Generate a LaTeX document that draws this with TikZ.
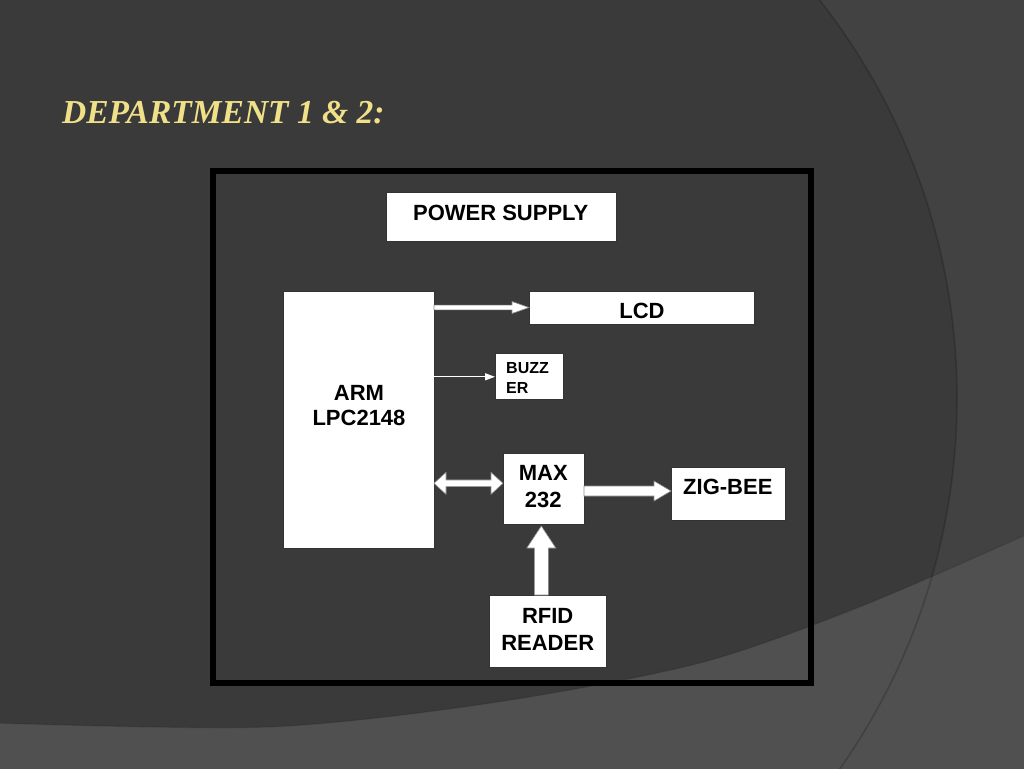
\documentclass[tikz,border=0pt]{standalone}
\usepackage{fontspec}
\newfontfamily\sansf{Liberation Sans}
\newfontfamily\seriff{Liberation Serif}
\usetikzlibrary{calc,arrows.meta}
\definecolor{bgdark}{RGB}{58,58,58}
\definecolor{bgright}{RGB}{66,66,66}
\definecolor{bgband}{RGB}{80,80,80}
\definecolor{titlecol}{RGB}{240,224,136}
\begin{document}
\begin{tikzpicture}[x=1pt,y=-1pt,
  box/.style={draw=black!80,line width=0.8pt,fill=white,inner sep=0pt,outer sep=0pt},
  lbl/.style={font=\sansf\bfseries\fontsize{22}{25}\selectfont,inner sep=0pt,text=black},
  lbltwo/.style={font=\sansf\bfseries\fontsize{22}{27}\selectfont,inner sep=0pt,text=black,align=center},
  barrow/.style={fill=white,draw=black!45,line width=0.6pt,line join=miter}]

\useasboundingbox (0,0) rectangle (1024,768);
\fill[bgdark] (0,0) rectangle (1024,768);
\begin{scope}
  \clip (0,0) rectangle (1024,768);
  \fill[bgright,even odd rule] (-10,-10) rectangle (1100,800) (312,398) circle (645);
  \fill[bgband] plot[smooth] coordinates {(-5,723) (268,727) (491,703) (700,663) (862,606) (1030,533)} -- (1030,775) -- (-5,775) -- cycle;
  \draw[black,opacity=0.18,line width=1.6pt] (312,398) circle (645);
  \draw[black,opacity=0.12,line width=1.2pt] plot[smooth] coordinates {(-5,723) (268,727) (491,703) (700,663) (862,606) (1030,533)};
\end{scope}

% title
\node[font=\seriff\bfseries\itshape\fontsize{33.5}{40}\selectfont,text=titlecol,anchor=base west,inner sep=0pt] (title) at (62,123.3) {DEPARTMENT 1 \& 2:};

% frame
\node[draw=black,line width=6pt,minimum width=597.5,minimum height=511.5,inner sep=0pt,outer sep=0pt] (frame) at (511.75,426.75) {};

% boxes (geometry)
\node[box,minimum width=230,minimum height=49] (ps) at (501,216.5) {};
\node[box,minimum width=225,minimum height=33] (lcd) at (641.5,307.5) {};
\node[box,minimum width=151,minimum height=257] (arm) at (358.5,419.5) {};
\node[box,minimum width=68,minimum height=46] (buzzer) at (529,376) {};
\node[box,minimum width=81,minimum height=71] (max) at (543.5,488.5) {};
\node[box,minimum width=114,minimum height=53] (zig) at (728,493.5) {};
\node[box,minimum width=117,minimum height=72] (rfid) at (547.5,631) {};

% connectors
\draw[barrow] ($(arm.east|-lcd.west)+(0,-2.35)$) -- ($(lcd.west)+(-17,-2.35)$) -- ($(lcd.west)+(-17,-6)$) -- (lcd.west) -- ($(lcd.west)+(-17,6)$) -- ($(lcd.west)+(-17,2.35)$) -- ($(arm.east|-lcd.west)+(0,2.35)$) -- cycle;

\draw[white,line width=1.3pt,-{Triangle[length=10pt,width=7pt]}] ($(arm.east|-buzzer.west)+(0,0.8)$) -- ($(buzzer.west)+(0,0.8)$);

\coordinate (dl) at ($(arm.east|-max.west)+(0,-5.2)$);
\coordinate (dr) at ($(max.west)+(0,-5.2)$);
\draw[barrow] (dl) -- ($(dl)+(12,-11)$) -- ($(dl)+(12,-3.35)$) -- ($(dr)+(-12,-3.35)$) -- ($(dr)+(-12,-11)$) -- (dr) -- ($(dr)+(-12,11)$) -- ($(dr)+(-12,3.35)$) -- ($(dl)+(12,3.35)$) -- ($(dl)+(12,11)$) -- cycle;

\coordinate (zl) at ($(max.east)+(0,2.5)$);
\coordinate (zr) at (zig.west|-zl);
\draw[barrow] ($(zl)+(0,-5)$) -- ($(zr)+(-17,-5)$) -- ($(zr)+(-17,-10)$) -- (zr) -- ($(zr)+(-17,10)$) -- ($(zr)+(-17,5)$) -- ($(zl)+(0,5)$) -- cycle;

\coordinate (ut) at ($(max.south)+(-2.2,2)$);
\coordinate (ub) at (ut|-rfid.north);
\draw[barrow] ($(ub)+(-7,0)$) -- ($(ut)+(-7,22)$) -- ($(ut)+(-14.5,22)$) -- (ut) -- ($(ut)+(14.5,22)$) -- ($(ut)+(7,22)$) -- ($(ub)+(7,0)$) -- cycle;

% texts
\node[lbl,anchor=base] (pst) at (500.7,220) {POWER SUPPLY};
\node[lbl,anchor=base] (lcdt) at (642,318) {LCD};
\node[font=\sansf\bfseries\fontsize{16}{20}\selectfont,inner sep=0pt,align=left,anchor=north west] (buzt) at (506,362.7) {BUZZ\\ER};
\node[lbl,align=center,anchor=north] (armt) at (359,385) {ARM\\LPC2148};
\node[lbltwo,anchor=north] (maxt) at (543.3,465) {MAX\\232};
\node[lbl,anchor=base] (zigt) at (727.8,494) {ZIG-BEE};
\node[lbltwo,anchor=north] (rfidt) at (547.7,607.7) {RFID\\READER};
\end{tikzpicture}
\end{document}
